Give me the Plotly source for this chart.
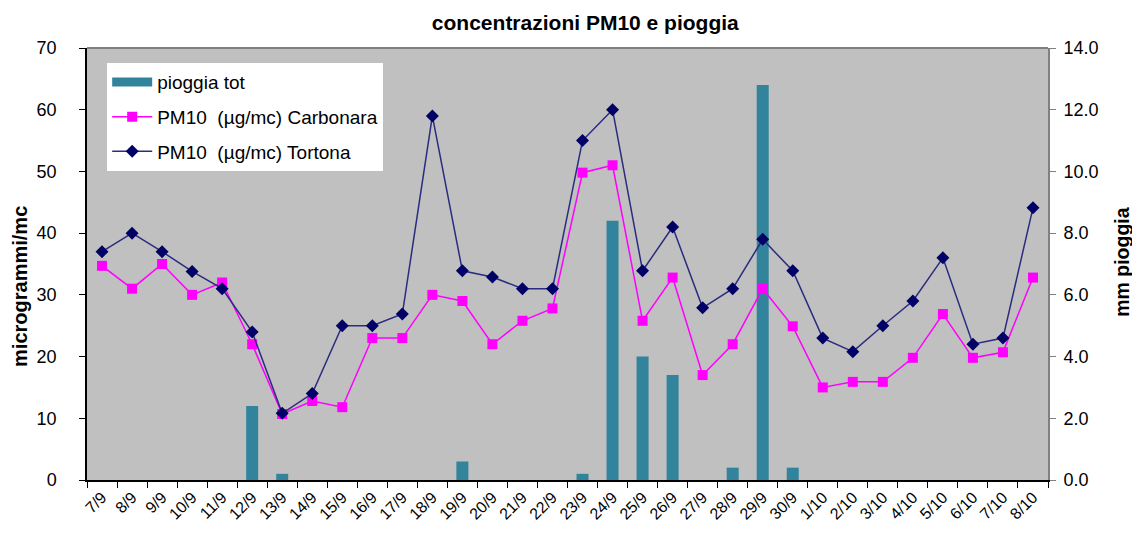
import plotly.graph_objects as go

dates = ["7/9", "8/9", "9/9", "10/9", "11/9", "12/9", "13/9", "14/9", "15/9", "16/9",
         "17/9", "18/9", "19/9", "20/9", "21/9", "22/9", "23/9", "24/9", "25/9", "26/9",
         "27/9", "28/9", "29/9", "30/9", "1/10", "2/10", "3/10", "4/10", "5/10", "6/10",
         "7/10", "8/10"]

pioggia = [0, 0, 0, 0, 0, 2.4, 0.2, 0, 0, 0,
           0, 0, 0.6, 0, 0, 0, 0.2, 8.4, 4.0, 3.4,
           0, 0.4, 12.8, 0.4, 0, 0, 0, 0, 0, 0,
           0, 0]

carbonara = [34.7, 31, 35, 30, 32, 22, 10.7, 12.8, 11.8, 23,
             23, 30, 29, 22, 25.8, 27.8, 49.8, 51, 25.8, 32.8,
             17, 22, 31, 24.9, 15, 15.9, 15.9, 19.8, 26.9, 19.8,
             20.7, 32.8]

tortona = [37, 40, 37, 33.8, 31, 24, 10.8, 14, 25, 25,
           26.9, 59, 33.9, 32.9, 31, 31, 55, 60, 33.9, 41,
           27.9, 31, 39, 33.9, 23, 20.8, 25, 29, 36, 22,
           23, 44.1]

left_ticks = [0, 10, 20, 30, 40, 50, 60, 70]
right_ticks = [0, 2, 4, 6, 8, 10, 12, 14]

FONT = "Liberation Sans, Arial, sans-serif"
TEAL = "#31849B"

fig = go.Figure()

# legend key for the rain bars (wide rectangle like the original)
fig.add_trace(go.Scatter(
    x=[None], y=[None], name="pioggia tot", mode="lines", legendgroup="a",
    line=dict(color=TEAL, width=9), yaxis="y",
))

fig.add_trace(go.Bar(
    x=dates, y=pioggia, name="pioggia tot", showlegend=False, legendgroup="a",
    marker=dict(color=TEAL, line=dict(width=0)),
    width=0.4, yaxis="y",
))

fig.add_trace(go.Scatter(
    x=dates, y=carbonara, name="PM10\u00a0 (µg/mc) Carbonara", legendgroup="b",
    mode="lines+markers",
    line=dict(color="#FF00FF", width=1.5),
    marker=dict(symbol="square", size=10, color="#FF00FF"),
    yaxis="y2",
))

fig.add_trace(go.Scatter(
    x=dates, y=tortona, name="PM10\u00a0 (µg/mc) Tortona", legendgroup="c",
    mode="lines+markers",
    line=dict(color="#2B2B80", width=1.5),
    marker=dict(symbol="diamond", size=10, color="#000066"),
    yaxis="y2",
))

fig.update_layout(
    width=1132, height=525,
    margin=dict(l=79, r=92, t=40, b=53, autoexpand=False),
    paper_bgcolor="white",
    plot_bgcolor="#C0C0C0",
    font=dict(family=FONT, color="black"),
    title=dict(text="<b>concentrazioni PM10 e pioggia</b>",
               x=0.51, xanchor="center", y=0.973, yanchor="middle",
               font=dict(size=21, family=FONT)),
    showlegend=True,
    legend=dict(x=0.021, y=0.965, xanchor="left", yanchor="top",
                bgcolor="white", borderwidth=0,
                font=dict(size=19, family=FONT),
                traceorder="grouped", itemwidth=40, tracegroupgap=7),
    xaxis=dict(
        type="category", tickangle=-45, automargin=False,
        tickson="boundaries", ticks="outside", ticklen=6, tickcolor="black",
        showline=True, linecolor="black", linewidth=1.5,
        showgrid=False, zeroline=False,
        tickfont=dict(size=16, family=FONT),
        range=[-0.5, 31.5],
    ),
    yaxis=dict(
        side="right", range=[0, 14], tickvals=right_ticks, automargin=False,
        tickformat=".1f", ticks="outside", ticklen=6, tickcolor="#808080",
        showline=True, linecolor="#808080", linewidth=2,
        showgrid=False, zeroline=False, ticklabelstandoff=4,
        tickfont=dict(size=18, family=FONT),
    ),
    yaxis2=dict(
        side="left", overlaying="y", range=[0, 70], tickvals=left_ticks, automargin=False,
        ticks="outside", ticklen=6, tickcolor="black",
        showline=True, linecolor="black", linewidth=1.5,
        showgrid=False, zeroline=False, ticklabelstandoff=19,
        tickfont=dict(size=18, family=FONT),
    ),
    bargap=0.6,
    annotations=[
        dict(text="<b>microgrammi/mc</b>", xref="paper", yref="paper",
             x=-0.0697, y=0.447, xanchor="center", yanchor="middle",
             textangle=-90, showarrow=False, font=dict(size=20, family=FONT)),
        dict(text="<b>mm pioggia</b>", xref="paper", yref="paper",
             x=1.077, y=0.505, xanchor="center", yanchor="middle",
             textangle=-90, showarrow=False, font=dict(size=19.5, family=FONT)),
    ],
    shapes=[dict(type="line", xref="paper", yref="paper", x0=0, x1=1, y0=1, y1=1,
                 line=dict(color="#808080", width=2))],
)

fig.write_html("out.html")
